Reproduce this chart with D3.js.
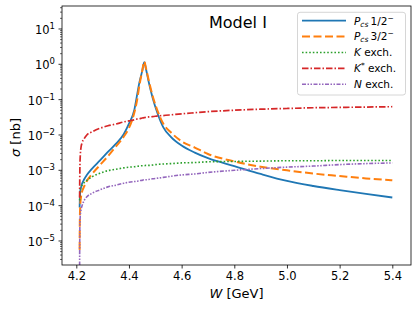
<!DOCTYPE html>
<html>
<head>
<meta charset="utf-8">
<script src="https://cdn.jsdelivr.net/npm/d3@7"></script>
<style>
  body { margin: 0; background: #fff; }
  svg { display: block; font-family: "DejaVu Sans", sans-serif; }
</style>
</head>
<body>
<div id="chart"></div>
<script>
// W grid (GeV) shared by all curves
var W = [4.2126, 4.2135, 4.215, 4.218, 4.222, 4.23, 4.24, 4.26, 4.29, 4.32, 4.35, 4.38, 4.40, 4.42, 4.43, 4.44, 4.45, 4.458, 4.465, 4.475, 4.49, 4.51, 4.53, 4.56, 4.60, 4.65, 4.70, 4.80, 4.90, 5.00, 5.10, 5.20, 5.30, 5.40];

// cross sections in nb
var pcs12 = [8.9e-5, 1.6e-4, 2.5e-4, 3.3e-4, 4.2e-4, 5.6e-4, 7.4e-4, 1.12e-3, 1.9e-3, 3.3e-3, 5.6e-3, 1.05e-2, 2.1e-2, 5.0e-2, 0.126, 0.316, 0.63, 1.15, 0.71, 0.316, 0.112, 0.038, 0.0166, 8.7e-3, 5.0e-3, 3.16e-3, 2.2e-3, 1.32e-3, 7.9e-4, 5.0e-4, 3.6e-4, 2.75e-4, 2.15e-4, 1.7e-4];
var pcs32 = [5.6e-6, 4.0e-5, 1.0e-4, 1.78e-4, 2.5e-4, 3.5e-4, 5.0e-4, 7.9e-4, 1.41e-3, 2.5e-3, 4.7e-3, 8.9e-3, 0.0158, 0.042, 0.089, 0.263, 0.63, 1.2, 0.76, 0.355, 0.126, 0.045, 0.021, 0.0117, 6.6e-3, 4.4e-3, 2.9e-3, 1.78e-3, 1.26e-3, 1.0e-3, 8.1e-4, 6.9e-4, 5.9e-4, 5.2e-4];
var kExch = [1.41e-4, 2.24e-4, 2.8e-4, 3.3e-4, 3.8e-4, 4.5e-4, 5.2e-4, 6.6e-4, 8.3e-4, 9.8e-4, 1.07e-3, 1.17e-3, 1.23e-3, 1.26e-3, 1.29e-3, 1.32e-3, 1.35e-3, 1.35e-3, 1.38e-3, 1.38e-3, 1.41e-3, 1.48e-3, 1.51e-3, 1.55e-3, 1.62e-3, 1.66e-3, 1.74e-3, 1.78e-3, 1.82e-3, 1.86e-3, 1.86e-3, 1.9e-3, 1.9e-3, 1.9e-3];
var kStarExch = [1.66e-4, 1.0e-3, 2.5e-3, 4.5e-3, 6.0e-3, 7.9e-3, 0.01, 0.0123, 0.0155, 0.0182, 0.0204, 0.0234, 0.0251, 0.0269, 0.0282, 0.0288, 0.0302, 0.0309, 0.0316, 0.0324, 0.0331, 0.0347, 0.0355, 0.0372, 0.0398, 0.0427, 0.0457, 0.0501, 0.0537, 0.0562, 0.0589, 0.0603, 0.0617, 0.0631];
var nExch = [2.0e-6, 2.5e-5, 5.0e-5, 7.6e-5, 1.0e-4, 1.41e-4, 1.78e-4, 2.24e-4, 2.8e-4, 3.4e-4, 3.8e-4, 4.3e-4, 4.6e-4, 4.8e-4, 4.9e-4, 5.1e-4, 5.2e-4, 5.4e-4, 5.4e-4, 5.5e-4, 5.75e-4, 6.0e-4, 6.3e-4, 6.8e-4, 7.4e-4, 7.9e-4, 8.7e-4, 1.0e-3, 1.12e-3, 1.23e-3, 1.32e-3, 1.45e-3, 1.55e-3, 1.62e-3];

var xTicks = [4.2, 4.4, 4.6, 4.8, 5.0, 5.2, 5.4];
var yExps = [-5, -4, -3, -2, -1, 0, 1];

var series = [
  {vals: pcs12,     color: "#1f77b4", dash: null,              w: 1.8},
  {vals: pcs32,     color: "#ff7f0e", dash: "8,3.5",           w: 2},
  {vals: kExch,     color: "#2ca02c", dash: "1.6,2",           w: 1.6},
  {vals: kStarExch, color: "#d62728", dash: "6.5,2,1.5,2",     w: 1.7},
  {vals: nExch,     color: "#9467bd", dash: "4,1.5,1.5,1.5,1.5,1.5", w: 1.6}
];

var svg_width = 418, svg_height = 309;
var pl = 62, pr = 411, pt = 6, pb = 265;

var svg = d3.select("#chart").append("svg")
  .attr("width", svg_width).attr("height", svg_height);

var x = d3.scaleLinear().domain([4.1457, 5.471]).range([pl, pr]);
var y = d3.scaleLog().domain([2.09e-6, 44.7]).range([pb, pt]);

svg.append("clipPath").attr("id", "clip")
  .append("rect").attr("x", pl).attr("y", pt)
  .attr("width", pr - pl).attr("height", pb - pt);

var line = d3.line()
  .x(function(d){ return x(d[0]); })
  .y(function(d){ return y(d[1]); })
  .curve(d3.curveMonotoneX);

var g = svg.append("g").attr("clip-path", "url(#clip)");
series.forEach(function(s){
  g.append("path")
    .datum(W.map(function(w, i){ return [w, s.vals[i]]; }))
    .attr("d", line)
    .attr("fill", "none")
    .attr("stroke", s.color)
    .attr("stroke-width", s.w)
    .attr("stroke-dasharray", s.dash);
});

// x axis
var xAxis = d3.axisBottom(x).tickValues(xTicks).tickFormat(d3.format(".1f"))
  .tickSize(3.5).tickPadding(3.5);
var gx = svg.append("g").attr("transform", "translate(0," + pb + ")").call(xAxis);
gx.select(".domain").remove();
gx.selectAll("text").attr("font-size", 11.5).attr("fill", "#000")
  .attr("font-family", "DejaVu Sans");
gx.selectAll("line").attr("stroke-width", 0.8);

// y axis: majors and log minors
var minors = [];
for (var e = -6; e <= 1; e++) for (var m = 2; m <= 9; m++) {
  var v = m * Math.pow(10, e);
  if (v >= y.domain()[0] && v <= y.domain()[1]) minors.push(v);
}
var gy = svg.append("g").attr("transform", "translate(" + pl + ",0)");
gy.selectAll("line.minor").data(minors).enter().append("line")
  .attr("x1", -2).attr("x2", 0)
  .attr("y1", function(d){ return y(d); }).attr("y2", function(d){ return y(d); })
  .attr("stroke", "#000").attr("stroke-width", 0.6);
gy.selectAll("line.major").data(yExps).enter().append("line")
  .attr("x1", -3.5).attr("x2", 0)
  .attr("y1", function(d){ return y(Math.pow(10, d)); })
  .attr("y2", function(d){ return y(Math.pow(10, d)); })
  .attr("stroke", "#000").attr("stroke-width", 0.8);
var yl = gy.selectAll("text.lab").data(yExps).enter().append("text")
  .attr("text-anchor", "end")
  .attr("x", -7)
  .attr("y", function(d){ return y(Math.pow(10, d)) + 5; })
  .attr("font-size", 11.5);
yl.append("tspan").text("10");
yl.append("tspan").attr("dy", -5).attr("font-size", 8.5)
  .text(function(d){ return d < 0 ? "\u2212" + (-d) : "" + d; });

// frame
svg.append("rect").attr("x", pl).attr("y", pt)
  .attr("width", pr - pl).attr("height", pb - pt)
  .attr("fill", "none").attr("stroke", "#000").attr("stroke-width", 0.8);

// axis labels
var xl = svg.append("text").attr("x", (pl + pr) / 2).attr("y", 298)
  .attr("text-anchor", "middle").attr("font-size", 13);
xl.append("tspan").attr("font-style", "italic").text("W");
xl.append("tspan").text(" [GeV]");

var ylab = svg.append("text")
  .attr("transform", "translate(20," + ((pt + pb) / 2 + 2) + ") rotate(-90)")
  .attr("text-anchor", "middle").attr("font-size", 13);
ylab.append("tspan").attr("font-style", "italic").text("\u03c3");
ylab.append("tspan").text(" [nb]");

svg.append("text").attr("x", 209).attr("y", 27.5)
  .attr("font-size", 16).text("Model I");

// legend
var lg = svg.append("g");
lg.append("rect").attr("x", 297.5).attr("y", 12.3).attr("width", 108).attr("height", 82.7)
  .attr("rx", 2.5).attr("fill", "#fff").attr("fill-opacity", 0.8)
  .attr("stroke", "#cccccc").attr("stroke-width", 0.8);
var legendY = [20.7, 36.6, 52.5, 68.4, 84.3];
series.forEach(function(s, i){
  lg.append("line").attr("x1", 302).attr("x2", 346)
    .attr("y1", legendY[i]).attr("y2", legendY[i])
    .attr("stroke", s.color).attr("stroke-width", s.w)
    .attr("stroke-dasharray", s.dash);
});
function legText(i) {
  return lg.append("text").attr("x", 354).attr("y", legendY[i] + 3.8).attr("font-size", 10.5);
}
var t0 = legText(0);
t0.append("tspan").attr("font-style", "italic").text("P");
t0.append("tspan").attr("font-style", "italic").attr("font-size", 7.5).attr("dy", 2).text("cs");
t0.append("tspan").attr("dy", -2).text("\u20091/2");
t0.append("tspan").attr("font-size", 7.5).attr("dy", -4).text("\u2212");
var t1 = legText(1);
t1.append("tspan").attr("font-style", "italic").text("P");
t1.append("tspan").attr("font-style", "italic").attr("font-size", 7.5).attr("dy", 2).text("cs");
t1.append("tspan").attr("dy", -2).text("\u20093/2");
t1.append("tspan").attr("font-size", 7.5).attr("dy", -4).text("\u2212");
var t2 = legText(2);
t2.append("tspan").attr("font-style", "italic").text("K");
t2.append("tspan").text(" exch.");
var t3 = legText(3);
t3.append("tspan").attr("font-style", "italic").text("K");
t3.append("tspan").attr("font-size", 7.5).attr("dy", -4).text("*");
t3.append("tspan").attr("dy", 4).text(" exch.");
var t4 = legText(4);
t4.append("tspan").attr("font-style", "italic").text("N");
t4.append("tspan").text(" exch.");
</script>
</body>
</html>
